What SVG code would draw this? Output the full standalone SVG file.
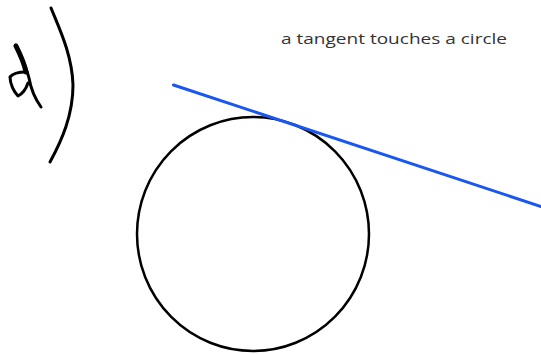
<svg xmlns="http://www.w3.org/2000/svg" width="541" height="354" viewBox="0 0 541 354">
<style>
.ink{fill:none;stroke:#000;stroke-linecap:round;stroke-linejoin:round}
.lbl{font-family:"Open Sans","Noto Sans",sans-serif;font-size:15px;fill:#333}
</style>
<rect width="541" height="354" fill="#fff"/>
<g id="label-d">
<path class="ink" stroke-width="3" d="M15.5,45 C20,55 26,65 29,78 C31,90 36,100 41,107"/>
<path class="ink" stroke-width="5" d="M16,46 C20,54 24,62 26,72"/>
<path class="ink" stroke-width="3" d="M26,72 C20,72 13,73 10,77 C10,84 14,92 18,96 C22,94 26,89 28,83"/>
<path class="ink" stroke-width="3" d="M51,8 C60,30 72,55 73,85 C73,115 62,140 50,162"/>
</g>
<g id="caption">
<text class="lbl" x="281" y="44" textLength="226" lengthAdjust="spacingAndGlyphs">a tangent touches a circle</text>
</g>
<g id="circle">
<ellipse cx="253" cy="234" rx="116" ry="117" fill="none" stroke="#000" stroke-width="2.5"/>
</g>
<g id="connectors">
<line id="tangent" x1="173.5" y1="85" x2="541" y2="206.5" stroke="#1a56f0" stroke-width="3" stroke-linecap="round"/>
</g>
</svg>
